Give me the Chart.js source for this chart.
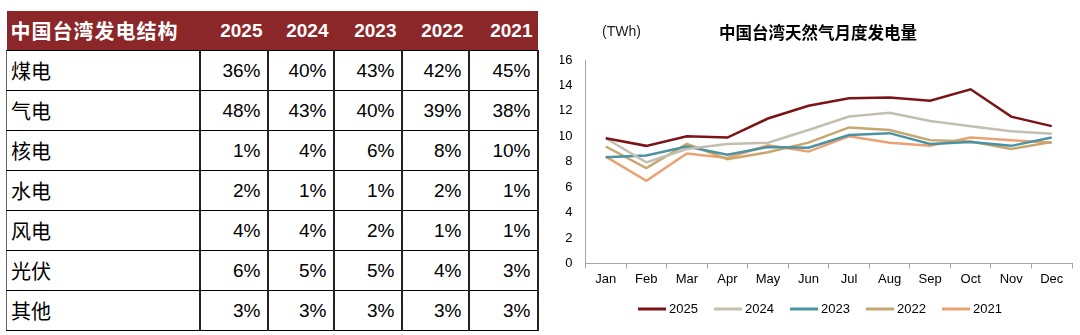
<!DOCTYPE html>
<html>
<head>
<meta charset="utf-8">
<script src="https://cdn.jsdelivr.net/npm/chart.js@4.4.1/dist/chart.umd.min.js"></script>
<style>
  html, body { margin:0; padding:0; background:#fff; width:1080px; height:335px; overflow:hidden; }
  #tbl { position:absolute; left:6px; top:11px; border-collapse:collapse; table-layout:fixed;
         font-family:"Liberation Sans","Noto Sans CJK SC",Arial,sans-serif; color:#000; }
  #tbl th { background:#8B2629; color:#fff; font-weight:bold; height:39px; padding:0 5px; font-size:19px; text-align:right; border:none; }
  #tbl th.first { text-align:left; font-size:20px; letter-spacing:1px; padding-left:4px; font-family:"Noto Sans CJK SC",sans-serif; }
  #tbl td { height:39px; font-size:19px; text-align:right; padding:0 6px 0 0; border-top:1px solid #000; border-bottom:1px solid #000; border-left:2px solid #222; border-right:2px solid #222; }
  #tbl td.first { text-align:left; font-size:20px; padding-left:4px; font-family:"Noto Sans CJK SC",sans-serif; border-left:1px solid #666; }
  #wrap { position:absolute; left:560px; top:0; width:520px; height:335px; }
</style>
</head>
<body>
<table id="tbl"></table>
<div id="wrap"><canvas id="c" width="520" height="335"></canvas></div>
<script>
// ---- table data ----
const tableTitle = '中国台湾发电结构';
const tableYears = ['2025', '2024', '2023', '2022', '2021'];
const tableSources = ['煤电', '气电', '核电', '水电', '风电', '光伏', '其他'];
const share2025 = [36, 48, 1, 2, 4, 6, 3];
const share2024 = [40, 43, 4, 1, 4, 5, 3];
const share2023 = [43, 40, 6, 1, 2, 5, 3];
const share2022 = [42, 39, 8, 2, 1, 4, 3];
const share2021 = [45, 38, 10, 1, 1, 3, 3];

// ---- chart data ----
const chartTitle = '中国台湾天然气月度发电量';
const unitLabel = '(TWh)';
const months = ['Jan','Feb','Mar','Apr','May','Jun','Jul','Aug','Sep','Oct','Nov','Dec'];
const gen2025 = [9.85, 9.25, 10.0, 9.9, 11.4, 12.4, 13.0, 13.05, 12.8, 13.7, 11.55, 10.8];
const gen2024 = [9.85, 7.95, 9.0, 9.4, 9.5, 10.5, 11.55, 11.85, 11.2, 10.8, 10.4, 10.2];
const gen2023 = [8.35, 8.5, 9.2, 8.55, 9.15, 9.1, 10.1, 10.25, 9.4, 9.55, 9.25, 9.9];
const gen2022 = [9.2, 7.5, 9.4, 8.2, 8.75, 9.5, 10.7, 10.5, 9.7, 9.6, 9.0, 9.55];
const gen2021 = [8.4, 6.5, 8.65, 8.3, 9.3, 8.8, 10.0, 9.5, 9.25, 9.9, 9.7, 9.5];
const yTicks = [0, 2, 4, 6, 8, 10, 12, 14, 16];

// ---- build table ----
const colWidths = [193, 68, 66, 68, 67, 69];
const shares = [share2025, share2024, share2023, share2022, share2021];
const tbl = document.getElementById('tbl');
const cg = document.createElement('colgroup');
colWidths.forEach(w => { const c = document.createElement('col'); c.style.width = w + 'px'; cg.appendChild(c); });
tbl.appendChild(cg);
const hr = document.createElement('tr');
const h0 = document.createElement('th'); h0.className = 'first'; h0.textContent = tableTitle; hr.appendChild(h0);
tableYears.forEach(y => { const th = document.createElement('th'); th.textContent = y; hr.appendChild(th); });
tbl.appendChild(hr);
tableSources.forEach((s, i) => {
  const tr = document.createElement('tr');
  const td0 = document.createElement('td'); td0.className = 'first'; td0.textContent = s; tr.appendChild(td0);
  shares.forEach(arr => { const td = document.createElement('td'); td.textContent = arr[i] + '%'; tr.appendChild(td); });
  tbl.appendChild(tr);
});

// ---- chart ----
const FONT = '"Liberation Sans", "Noto Sans CJK SC", Arial, sans-serif';
const series = [
  { label: '2025', data: gen2025, color: '#7A1418' },
  { label: '2024', data: gen2024, color: '#C3BFB0' },
  { label: '2023', data: gen2023, color: '#4A93A3' },
  { label: '2022', data: gen2022, color: '#C9A66B' },
  { label: '2021', data: gen2021, color: '#EBA273' }
];

const decor = {
  id: 'decor',
  afterDraw(chart) {
    const ctx = chart.ctx;
    ctx.save();
    ctx.fillStyle = '#000';
    ctx.textBaseline = 'middle';
    ctx.font = 'bold 16.5px "Noto Sans CJK SC", sans-serif';
    ctx.textAlign = 'center';
    ctx.fillText(chartTitle, 258, 33);
    ctx.font = '14px ' + FONT;
    ctx.textAlign = 'left';
    ctx.fillStyle = '#222';
    ctx.fillText(unitLabel, 42, 32);
    // legend
    ctx.font = '13px ' + FONT;
    const itemW = 76;
    let x = 78;
    const y = 309;
    chart.data.datasets.forEach(ds => {
      ctx.strokeStyle = ds.borderColor;
      ctx.lineWidth = 3;
      ctx.beginPath(); ctx.moveTo(x, y); ctx.lineTo(x + 28, y); ctx.stroke();
      ctx.fillStyle = '#000';
      ctx.fillText(ds.label, x + 31, y + 0.5);
      x += itemW;
    });
    ctx.restore();
  }
};

new Chart(document.getElementById('c'), {
  type: 'line',
  data: {
    labels: months,
    datasets: series.map(s => ({
      label: s.label, data: s.data, borderColor: s.color, backgroundColor: s.color,
      borderWidth: 2.5, pointRadius: 0, tension: 0, fill: false
    }))
  },
  options: {
    responsive: false,
    animation: false,
    layout: { padding: { top: 60, left: 0, right: 8, bottom: 0 } },
    plugins: { legend: { display: false }, title: { display: false }, tooltip: { enabled: false } },
    scales: {
      x: {
        type: 'category',
        offset: true,
        grid: { display: true, drawOnChartArea: false, drawTicks: true, tickLength: 5, offset: true, color: '#A6A6A6' },
        border: { display: true, color: '#A6A6A6', width: 1 },
        ticks: { color: '#000', font: { family: FONT, size: 13 }, padding: 3, maxRotation: 0, autoSkip: false },
        afterFit(scale) { scale.height = 71.5; }
      },
      y: {
        min: 0, max: 16,
        afterBuildTicks(scale) { scale.ticks = yTicks.map(v => ({ value: v })); },
        grid: { display: false, drawTicks: false },
        border: { display: true, color: '#A6A6A6', width: 1 },
        ticks: { color: '#000', font: { family: FONT, size: 13 }, padding: 13 },
        afterFit(scale) { scale.width = 25.5; }
      }
    }
  },
  plugins: [decor]
});
</script>
</body>
</html>
